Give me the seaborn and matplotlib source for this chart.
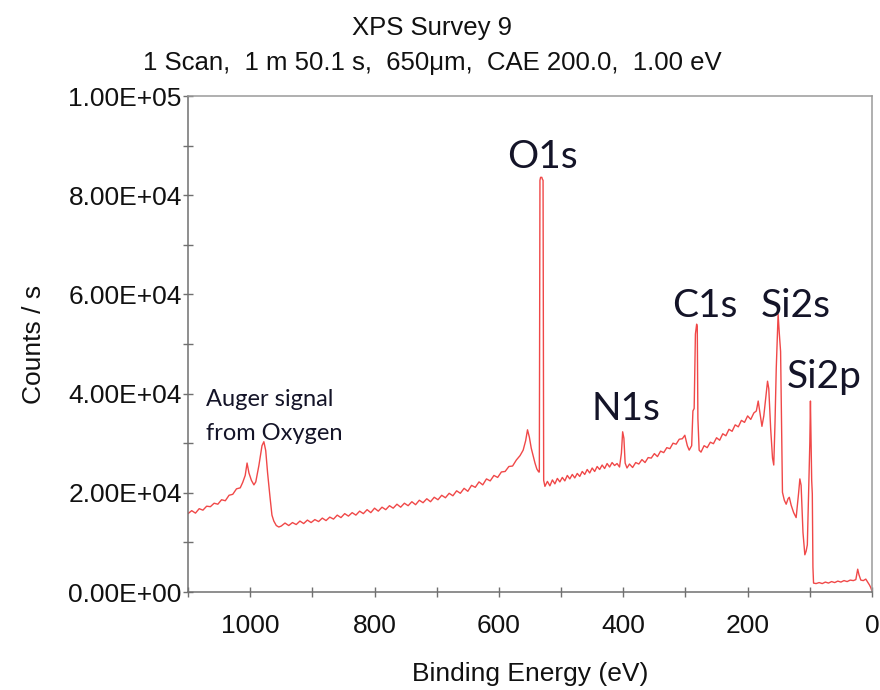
import matplotlib
matplotlib.use("Agg")
import matplotlib.pyplot as plt
from matplotlib.ticker import MultipleLocator, FuncFormatter
import seaborn as sns
import pandas as pd

# ---- data (binding energy in eV, counts / s) ----
energy = [
    1100, 1094, 1088, 1082, 1076, 1070, 1064, 1058, 1052, 1046, 1040, 1034, 1028, 1022, 1016, 1012,
    1008, 1005, 1002, 998, 994, 991, 986, 981, 978, 975, 972, 968, 965, 962, 958, 954,
    950, 944, 938, 932, 926, 920, 914, 908, 902, 896, 890, 884, 878, 872, 866, 860,
    854, 848, 842, 836, 830, 824, 818, 812, 806, 800, 794, 788, 782, 776, 770, 764,
    758, 752, 746, 740, 734, 728, 722, 716, 710, 704, 698, 692, 686, 680, 674, 668,
    662, 656, 650, 644, 638, 632, 626, 620, 614, 608, 602, 596, 590, 584, 578, 572,
    566, 561, 557, 554, 551, 548, 545, 542, 539, 536, 535, 534, 533, 531, 530, 529,
    528, 526, 522, 518, 514, 510, 506, 502, 498, 494, 490, 486, 482, 478, 474, 470,
    466, 462, 458, 454, 450, 446, 442, 438, 434, 430, 426, 422, 418, 414, 410, 406,
    403, 401, 399, 397, 394, 390, 385, 380, 375, 370, 365, 360, 355, 350, 345, 340,
    335, 330, 325, 320, 315, 310, 305, 301, 297, 294, 290, 288, 286, 284, 282, 281,
    280, 278, 275, 270, 265, 260, 255, 250, 245, 240, 235, 230, 225, 220, 215, 210,
    205, 200, 195, 190, 186, 183, 180, 177, 174, 171, 168, 166, 163, 160, 158, 156,
    154, 152, 151, 149, 147, 145, 144, 141, 138, 135, 133, 130, 126, 122, 118, 116,
    114, 111, 108, 106, 104, 102, 100, 99, 98, 97, 96, 95, 94, 90, 85, 80,
    75, 70, 65, 60, 55, 50, 45, 40, 35, 30, 26, 23, 21, 18, 14, 10,
    7, 4, 2, 0,
]
counts = [
    15800, 16400, 15900, 16800, 16500, 17300, 17200, 17900, 17700, 18600, 18400, 19500, 19700, 20800, 21000, 22100,
    23500, 26000, 24000, 22500, 21600, 22200, 25500, 29500, 30300, 28500, 24000, 19000, 15500, 14300, 13400, 13100,
    13300, 13900, 13400, 14000, 13600, 14300, 13800, 14500, 14000, 14600, 14200, 14900, 14400, 15100, 14700, 15500,
    15000, 15800, 15300, 16000, 15500, 16300, 15800, 16600, 16000, 16900, 16300, 17100, 16600, 17400, 16900, 17700,
    17100, 17900, 17400, 18200, 17600, 18500, 18000, 18800, 18200, 19100, 18600, 19500, 19000, 19900, 19400, 20400,
    19900, 20900, 20300, 21500, 21100, 22200, 21600, 22800, 22400, 23500, 23100, 24200, 24300, 25300, 25400, 26600,
    27500, 28600, 30500, 32700, 31200, 29000, 27500, 26000, 24800, 24200, 24200, 83000, 83600, 83600, 83200, 83000,
    22500, 21300, 22300, 21400, 22600, 21800, 22900, 22200, 23100, 22400, 23500, 22800, 23700, 23000, 23900, 23300,
    24300, 23700, 24700, 24000, 25000, 24300, 25300, 24700, 25600, 24900, 25900, 25200, 26100, 25500, 25900, 25200,
    28000, 32300, 31000, 26000, 25000, 25800, 25100, 26100, 25800, 26700, 26100, 27100, 27000, 27900, 27300, 28400,
    28100, 29100, 28900, 30000, 29800, 30800, 30900, 31600, 29500, 28600, 29500, 36500, 37000, 52000, 54000, 53500,
    35000, 28600, 28200, 29500, 29100, 30200, 29900, 31100, 30600, 31900, 31500, 32800, 32400, 33700, 33300, 34600,
    34200, 35500, 34800, 36100, 36500, 38500, 36000, 33400, 35500, 39000, 42500, 41000, 33000, 27000, 25600, 34000,
    45000, 52000, 56000, 52000, 48500, 30000, 20100, 18500, 17700, 18800, 19100, 17500, 16000, 15000, 20000, 22800,
    21500, 12000, 7500, 8200, 9500, 20000, 30000, 38500, 30000, 22500, 19800, 5000, 1800, 1700, 1900, 1700,
    2000, 1800, 2100, 1900, 2200, 2000, 2300, 2100, 2400, 2300, 2500, 4600, 3500, 2400, 2300, 2600,
    2000, 1400, 900, 200,
]
peak_names = ["O1s", "N1s", "C1s", "Si2s", "Si2p"]
auger_lines = ["Auger signal", "from Oxygen"]
title_line1 = "XPS Survey 9"
title_line2 = "1 Scan,  1 m 50.1 s,  650\u03bcm,  CAE 200.0,  1.00 eV"
x_ticks = [1000, 800, 600, 400, 200, 0]
y_ticks = [0, 20000, 40000, 60000, 80000, 100000]

df = pd.DataFrame({"Binding Energy (eV)": energy, "Counts / s": counts})

sns.set_style("white")
plt.rcParams["font.family"] = ["Liberation Sans", "DejaVu Sans"]

fig = plt.figure(figsize=(8.8, 6.9), dpi=100)
ax = fig.add_axes([188 / 880, 1 - 592 / 690, 684 / 880, 496 / 690])

sns.lineplot(data=df, x="Binding Energy (eV)", y="Counts / s", ax=ax,
             color="#f04848", linewidth=1.0, estimator=None, sort=False)

ax.set_xlim(1100, 0)
ax.set_ylim(0, 100000)
ax.set_xticks(x_ticks)
ax.set_yticks(y_ticks)
ax.xaxis.set_minor_locator(MultipleLocator(100))
ax.yaxis.set_minor_locator(MultipleLocator(10000))
ax.yaxis.set_major_formatter(FuncFormatter(lambda v, p: f"{v:.2E}"))
ax.xaxis.set_major_formatter(FuncFormatter(lambda v, p: f"{int(v)}"))

ax.tick_params(axis="both", which="both", direction="inout", length=7, width=1,
               color="#707070", labelsize=19, labelcolor="#111111")
ax.tick_params(axis="y", which="both", left=True, pad=1)
ax.tick_params(axis="x", which="both", bottom=True, pad=12)

for side in ["left", "bottom"]:
    ax.spines[side].set_color("#707070")
    ax.spines[side].set_linewidth(1.1)
for side in ["top", "right"]:
    ax.spines[side].set_color("#9a9a9a")
    ax.spines[side].set_linewidth(1.1)

ax.set_xlabel("Binding Energy (eV)", fontsize=19, color="#111111")
ax.xaxis.set_label_coords(0.5, -0.141)
ax.set_ylabel("Counts / s", fontsize=19, color="#111111")
ax.yaxis.set_label_coords(-0.208, 0.5)

fig.text(432 / 880, 1 - 35 / 690, title_line1, ha="center", va="baseline",
         fontsize=18.5, color="#111111")
fig.text(432 / 880, 1 - 70 / 690, title_line2, ha="center", va="baseline",
         fontsize=18.5, color="#111111")

peak_pos = {"O1s": (586, 85500), "N1s": (451, 34700), "C1s": (322, 55400),
            "Si2s": (179, 55400), "Si2p": (137, 41100)}
for name in peak_names:
    px, py = peak_pos[name]
    ax.text(px, py, name, ha="left", va="baseline", fontsize=28,
            family=["Lato", "DejaVu Sans"], color="#141428")

auger_pos = [(1071, 37500), (1071, 30600)]
for line, (px, py) in zip(auger_lines, auger_pos):
    ax.text(px, py, line, ha="left", va="baseline", fontsize=17,
            family=["Lato", "DejaVu Sans"], color="#141428")

fig.savefig("out.png", dpi=100)
